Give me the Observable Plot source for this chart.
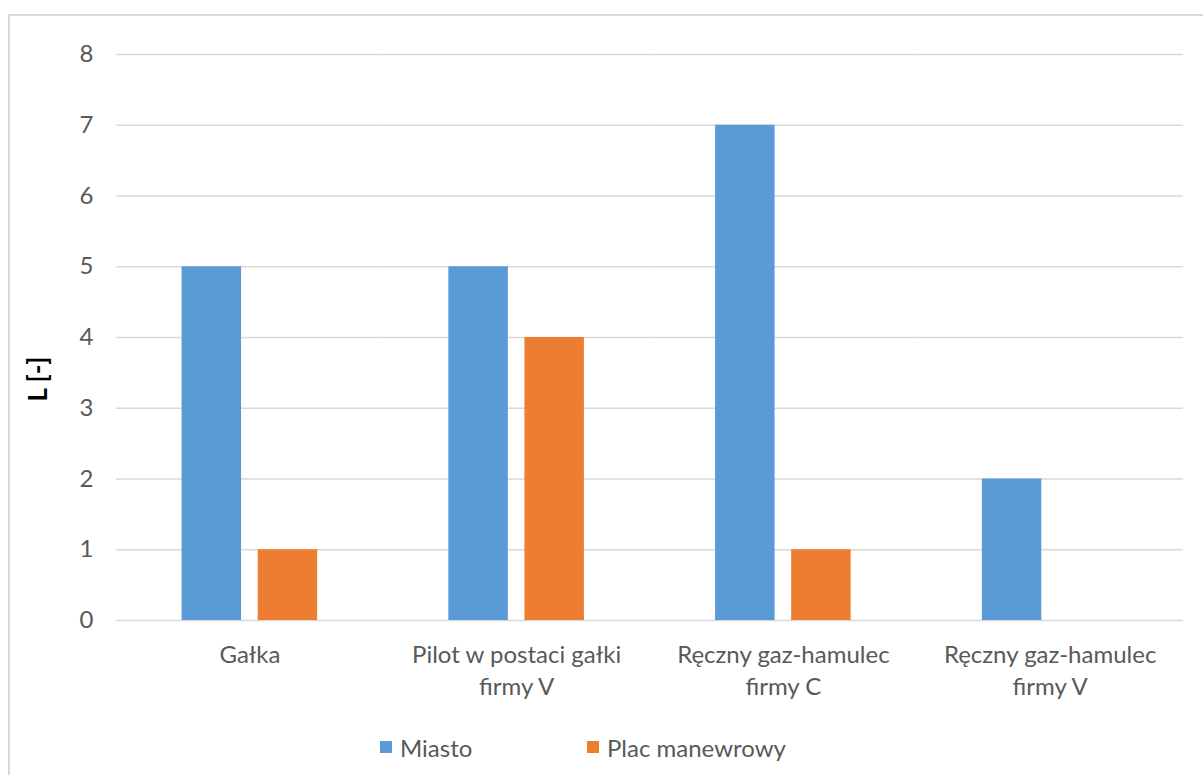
<!DOCTYPE html>
<html>
<head>
<meta charset="utf-8">
<script src="https://cdn.jsdelivr.net/npm/d3@7"></script>
<script src="https://cdn.jsdelivr.net/npm/@observablehq/plot@0.6"></script>
<style>
  html, body { margin: 0; padding: 0; background: #fff; }
  #wrap { position: relative; width: 1203px; height: 775px; overflow: hidden; font-family: Lato, "Open Sans", sans-serif; }
  #box { position: absolute; left: 8px; top: 14px; width: 1300px; height: 900px; border: 2px solid #d9d9d9; box-sizing: border-box; pointer-events: none; }
  #chart { position: absolute; left: 0; top: 0; }
  #ylabel { position: absolute; left: 37px; top: 379px; transform: translate(-50%, -50%) rotate(-90deg); font-weight: bold; font-size: 26px; color: #000; white-space: nowrap; }
  #legend { position: absolute; top: 733px; left: 0; width: 1203px; height: 30px; font-size: 24px; color: #595959; }
  #legend .item { position: absolute; top: 0; display: flex; align-items: center; height: 28px; }
  #legend .sw { width: 12px; height: 12px; margin-right: 8px; }
  #chart svg text { fill: #595959; }
</style>
</head>
<body>
<div id="wrap">
  <div id="chart"></div>
  <div id="ylabel"></div>
  <div id="legend"></div>
  <div id="box"></div>
</div>
<script>
// Categories (axis labels, with line breaks) and the two series
const categories = [
  "Gałka",
  "Pilot w postaci gałki\nfirmy V",
  "Ręczny gaz-hamulec\nfirmy C",
  "Ręczny gaz-hamulec\nfirmy V"
];
const seriesNames = ["Miasto", "Plac manewrowy"];
const seriesColors = ["#5b9bd5", "#ed7d31"];
const miasto = [5, 5, 7, 2];
const placManewrowy = [1, 4, 1, 0];
const yTicks = [0, 1, 2, 3, 4, 5, 6, 7, 8];
const yTitle = "L [-]";

const rows = categories.flatMap((c, i) => [
  {category: c, series: seriesNames[0], value: miasto[i]},
  {category: c, series: seriesNames[1], value: placManewrowy[i]}
]);

const chart = Plot.plot({
  width: 1203,
  height: 715,
  marginLeft: 116,
  marginRight: 20,
  marginTop: 54,
  marginBottom: 95,
  style: {fontFamily: "Lato, 'Open Sans', sans-serif", fontSize: "24px", color: "#595959", background: "transparent"},
  fx: {domain: categories, padding: 0, round: false},
  x: {domain: seriesNames, paddingInner: 0.218, paddingOuter: 0.862, round: false, axis: null},
  y: {domain: [0, 8]},
  color: {domain: seriesNames, range: seriesColors},
  marks: [
    Plot.gridY(yTicks, {stroke: "#d9d9d9", strokeOpacity: 1, strokeWidth: 1.3}),
    Plot.axisY(yTicks, {tickSize: 0, tickPadding: 23, tickFormat: d3.format("d"), label: null, fontSize: 24}),
    Plot.axisFx({anchor: "bottom", tickSize: 0, tickPadding: 20, label: null, fontSize: 24, lineHeight: 1.33}),
    Plot.barY(rows, {fx: "category", x: "series", y: "value", fill: "series"})
  ]
});
document.getElementById("chart").appendChild(chart);

document.getElementById("ylabel").textContent = yTitle;

// Legend entries
const legendX = [380, 587];
const legend = document.getElementById("legend");
seriesNames.forEach((name, i) => {
  const item = document.createElement("div");
  item.className = "item";
  item.style.left = legendX[i] + "px";
  const sw = document.createElement("span");
  sw.className = "sw";
  sw.style.background = seriesColors[i];
  const label = document.createElement("span");
  label.textContent = name;
  item.appendChild(sw);
  item.appendChild(label);
  legend.appendChild(item);
});
</script>
</body>
</html>
